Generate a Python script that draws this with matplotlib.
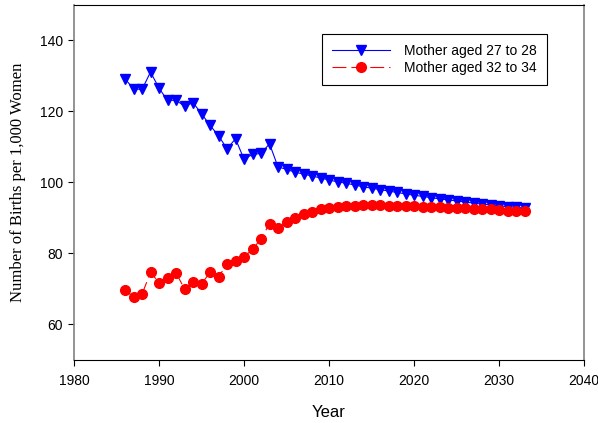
import numpy as np
from matplotlib import pyplot as plt

# Years of the projection
years = np.arange(1986, 2034)

# Birth rate, mothers aged 27 to 28
aged27to28 = [129.2, 126.4, 126.2, 131.1, 126.6, 123.1, 123.2, 121.5, 122.5, 119.4,
              116.1, 113.2, 109.5, 112.3, 106.6, 107.9, 108.2, 110.9, 104.4, 103.7,
              102.9, 102.4, 101.8, 101.3, 100.7, 100.2, 99.8, 99.3, 98.8, 98.4,
              98.0, 97.6, 97.2, 96.8, 96.4, 96.1, 95.7, 95.4, 95.1, 94.8,
              94.5, 94.2, 93.9, 93.7, 93.4, 93.2, 93.0, 92.8]

# Birth rate, mothers aged 32 to 34
aged32to34 = [69.7, 67.8, 68.5, 74.7, 71.8, 73.0, 74.6, 70.0, 72.1, 71.4,
              74.7, 73.4, 77.0, 77.8, 79.0, 81.2, 84.1, 88.4, 87.2, 88.8,
              90.0, 91.1, 91.8, 92.4, 92.8, 93.0, 93.3, 93.5, 93.6, 93.6,
              93.6, 93.5, 93.4, 93.4, 93.3, 93.2, 93.1, 93.0, 92.9, 92.8,
              92.7, 92.6, 92.5, 92.4, 92.3, 92.1, 92.0, 91.9]

xTicks = [1980, 1990, 2000, 2010, 2020, 2030, 2040]
yTicks = [60, 80, 100, 120, 140]

plt.rcParams['font.family'] = ['Liberation Sans', 'DejaVu Sans']

fig = plt.figure(figsize=(5.98, 4.23), dpi=100)
ax = fig.add_axes([74 / 598, 1 - 360 / 423, (584 - 74) / 598, (360 - 5) / 423])

ax.plot(years, aged27to28, color='blue', linewidth=0.8, marker='v',
        markersize=7.3, label='Mother aged 27 to 28')
ax.plot(years, aged32to34, color='red', linewidth=0.8, linestyle=(0, (12.5, 4.5)),
        marker='o', markersize=7, label='Mother aged 32 to 34')

ax.set_xlim(1980, 2040)
ax.set_ylim(50, 150)
ax.set_xticks(xTicks)
ax.set_yticks(yTicks)
ax.tick_params(direction='out', length=4, labelsize=10, top=False, right=False)
ax.tick_params(axis='x', pad=6)
ax.tick_params(axis='y', pad=4)

# grey side frame like the original
for side in ['left', 'right']:
    ax.spines[side].set_color('#808080')
    ax.spines[side].set_linewidth(1.2)

ax.set_xlabel('Year', fontsize=12, labelpad=12)
ax.set_ylabel('Number of Births per 1,000 Women', fontsize=12, labelpad=10,
              family=['Liberation Serif', 'DejaVu Serif'])

leg = ax.legend(loc='upper right', bbox_to_anchor=(0.927, 0.918), fontsize=10,
                fancybox=False, edgecolor='black', framealpha=1,
                handlelength=4.2, borderpad=0.7, labelspacing=0.25,
                handletextpad=1.0, borderaxespad=0)
leg.get_frame().set_linewidth(0.8)

fig.savefig('out.png', dpi=100)
